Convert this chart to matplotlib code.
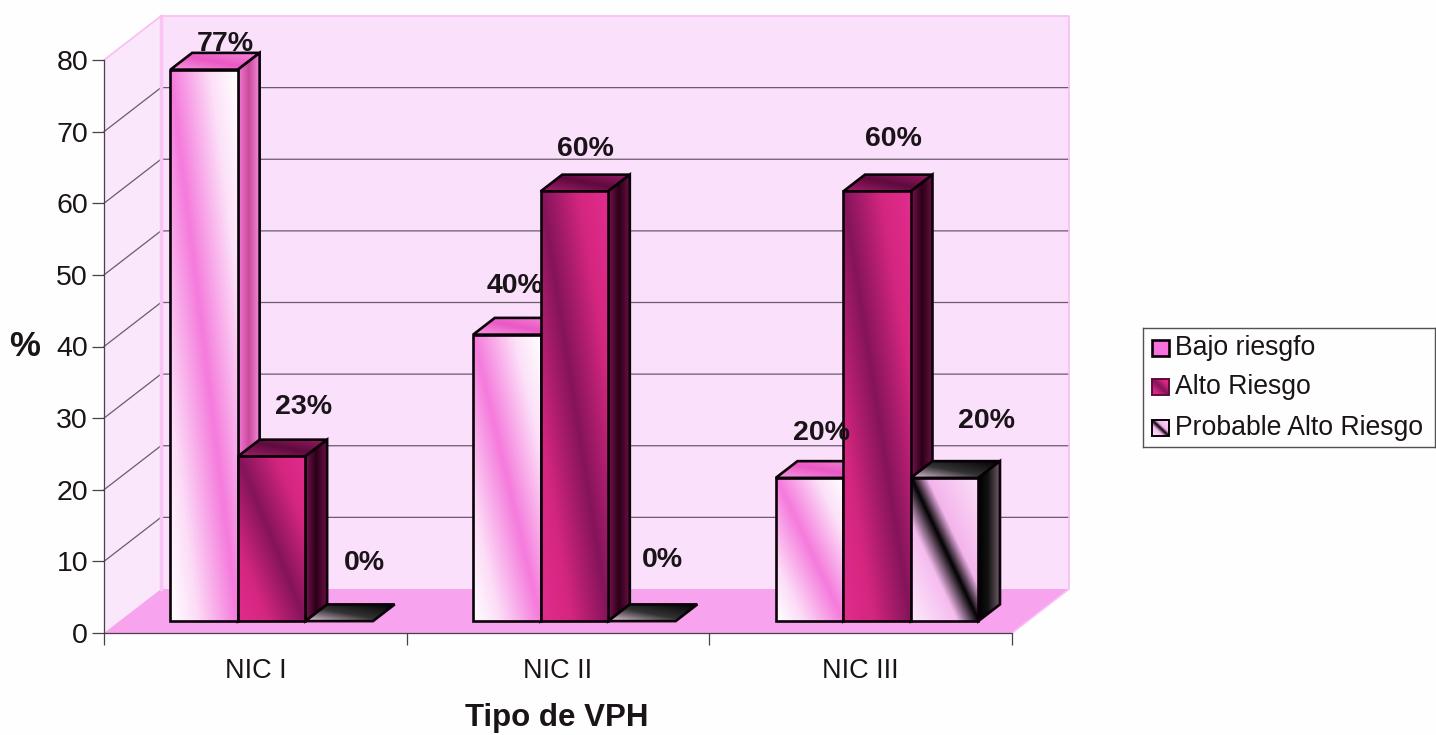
import numpy as np
import matplotlib
matplotlib.use("Agg")
import matplotlib.pyplot as plt
from matplotlib.colors import LinearSegmentedColormap
from matplotlib.patches import Polygon, Rectangle

plt.rcParams['font.family'] = ['Liberation Sans', 'DejaVu Sans']

categories = ['NIC I', 'NIC II', 'NIC III']
bajo = [77, 40, 20]
alto = [23, 60, 60]
probable = [0, 0, 20]
series_names = ['Bajo riesgfo', 'Alto Riesgo', 'Probable Alto Riesgo']
y_ticks = [0, 10, 20, 30, 40, 50, 60, 70, 80]

W, H = 1436, 735
X_PX = 908 / 3   # pixels per category
Y_PX = 573 / 80  # pixels per percent
DX = 57 / X_PX   # full depth of the box in data units
DY = 44 / Y_PX
BAR_W = 67.5 / X_PX
D0, D1 = 0.27, 0.65  # depth of the bars' front and back

# label offsets from the middle of each bar top, in pixels (series, then category)
label_offsets = [
    [(21, 26), (8, 49), (12, 45)],
    [(32, 49), (11, 42), (16, 52)],
    [(25, 58), (21, 61), (42, 57)],
]

front_stops = [
    [(0, '#ffffff'), (0.2, '#fcdcf7'), (0.5, '#f57adc'), (0.8, '#fce0f8'), (1, '#ffffff')],
    [(0, '#e22c8e'), (0.22, '#d4267f'), (0.5, '#84145a'), (0.78, '#d4267f'), (1, '#e22c8e')],
    [(0, '#fdeafb'), (0.34, '#f6bcef'), (0.5, '#000000'), (0.62, '#f4b4ec'), (1, '#fbe0f8')],
]
side_stops = [
    [(0, '#f27bd6'), (0.5, '#c94a9a'), (1, '#f58bdc')],
    [(0, '#7d1250'), (0.5, '#2a0018'), (1, '#6d0f45')],
    [(0, '#000000'), (0.45, '#111111'), (1, '#6f5c6a')],
]
top_stops = [
    [(0, '#f59be2'), (0.5, '#ea58c4'), (1, '#f48ad8')],
    [(0, '#a51c6e'), (0.5, '#5e0b3c'), (1, '#9b1a68')],
    [(0, '#e8c8e0'), (0.45, '#333333'), (1, '#000000')],
]

fig = plt.figure(figsize=(W / 100, H / 100), dpi=100, facecolor='#fefefe')
ax = fig.add_axes([104 / W, 1 - 633 / H, 908 / W, 573 / H])
ax.patch.set_visible(False)


def project(x, y, d):
    return (x + d * DX, y + d * DY)


def shade(pts, stops, z, mode='diag'):
    pts = np.array(pts)
    x0, y0 = pts.min(axis=0)
    x1, y1 = pts.max(axis=0)
    u, v = np.meshgrid(np.linspace(0, 1, 80), np.linspace(0, 1, 80))
    s = (u + v) / 2 if mode == 'diag' else u
    cmap = LinearSegmentedColormap.from_list('face', stops)
    im = ax.imshow(s, cmap=cmap, vmin=0, vmax=1, origin='lower', aspect='auto',
                   extent=(x0, x1, y0, y1), interpolation='bilinear', zorder=z)
    im.set_clip_box(fig.bbox)
    im.set_clip_path(Polygon(pts, closed=True, transform=ax.transData))
    ax.add_patch(Polygon(pts, closed=True, fill=False, ec='#0a0008', lw=1.9,
                         joinstyle='miter', clip_on=False, zorder=z + 0.001))


def wall(pts, color, z):
    ax.add_patch(Polygon(pts, closed=True, fc=color, ec='none', clip_on=False, zorder=z))


# side wall, back wall and floor
wall([project(0, 0, 0), project(0, 80, 0), project(0, 80, 1), project(0, 0, 1)], '#fbe7fb', 0.1)
wall([project(0, 0, 1), project(0, 80, 1), project(3, 80, 1), project(3, 0, 1)], '#fae0fa', 0.1)
wall([project(0, 0, 0), project(3, 0, 0), project(3, 0, 1), project(0, 0, 1)], '#f7a3ee', 0.2)

# grid lines run along the side wall and then the back wall
for t in y_ticks[1:-1]:
    xs, ys = zip(project(0, t, 0), project(0, t, 1), project(3, t, 1))
    ax.plot(xs, ys, color='#6d5a6d', lw=0.9, clip_on=False, zorder=0.3)

# pink edges of the box
xs, ys = zip(project(0, 80, 0), project(0, 80, 1), project(3, 80, 1), project(3, 0, 1), project(3, 0, 0))
ax.plot(xs, ys, color='#f8bdf3', lw=1.2, clip_on=False, zorder=0.4)
xs, ys = zip(project(0, 0, 1), project(0, 80, 1))
ax.plot(xs, ys, color='#f9c4f3', lw=2.5, clip_on=False, zorder=0.35)

# bars, painted left to right so each one hides the side of the previous one
series = [bajo, alto, probable]
z = 1.0
for c in range(len(categories)):
    for s in range(len(series)):
        val = series[s][c]
        left = c + 0.5 + (s - 1.5) * BAR_W + 1 / X_PX
        right = left + BAR_W
        top = [project(left, val, D0), project(right, val, D0),
               project(right, val, D1), project(left, val, D1)]
        shade(top, top_stops[s], z)
        z += 0.01
        if val > 0:
            side = [project(right, 0, D0), project(right, val, D0),
                    project(right, val, D1), project(right, 0, D1)]
            shade(side, side_stops[s], z, mode='u')
            z += 0.01
            front = [project(left, 0, D0), project(right, 0, D0),
                     project(right, val, D0), project(left, val, D0)]
            shade(front, front_stops[s], z)
            z += 0.01
        ox, oy = label_offsets[s][c]
        ax.annotate(f'{val}%', project(left + BAR_W / 2, val, D0), xytext=(ox * 0.72, oy * 0.72),
                    textcoords='offset points', ha='center', va='center',
                    fontsize=20.5, fontweight='bold', color='#1a1418', zorder=5,
                    annotation_clip=False)

ax.set_xlim(0, 3)
ax.set_ylim(0, 80)

for name in ['top', 'right']:
    ax.spines[name].set_visible(False)
for name in ['left', 'bottom']:
    ax.spines[name].set_color('#4a3f4a')
    ax.spines[name].set_linewidth(0.9)
    ax.spines[name].set_zorder(3)

ax.set_yticks(y_ticks)
ax.tick_params(axis='y', length=8.5, width=0.9, color='#4a3f4a', labelsize=20.5, pad=3, labelcolor='#1a1418')
ax.set_xticks([0, 1, 2, 3])
ax.set_xticklabels([])
ax.tick_params(axis='x', which='major', length=8.5, width=0.9, color='#4a3f4a')
ax.set_xticks([0.5, 1.5, 2.5], minor=True)
ax.set_xticklabels(categories, minor=True, fontsize=19.5, color='#1a1418')
ax.tick_params(axis='x', which='minor', length=0, pad=18)

ax.set_xlabel('Tipo de VPH', fontsize=22.5, fontweight='bold', color='#1a1418')
ax.xaxis.set_label_coords((557 - 104) / 908, (633 - 718) / 573)
ax.xaxis.label.set_va('center')
ax.set_ylabel('%', rotation=0, fontsize=25, fontweight='bold', color='#1a1418')
ax.yaxis.set_label_coords((25 - 104) / 908, (633 - 346) / 573)
ax.yaxis.label.set_va('center')
ax.yaxis.label.set_ha('center')

# legend box runs up to the right edge of the figure
leg = fig.add_axes([1143 / W, 1 - 447 / H, 292 / W, 119 / H])
leg.set_xlim(1143, 1435)
leg.set_ylim(447, 328)
leg.set_xticks([])
leg.set_yticks([])
leg.set_facecolor('#fefefe')
for sp in leg.spines.values():
    sp.set_color('#555055')
    sp.set_linewidth(1.0)

swatch_y = [348, 387, 428]
for s, name in enumerate(series_names):
    y = swatch_y[s]
    cmap = LinearSegmentedColormap.from_list('swatch', front_stops[s])
    u, v = np.meshgrid(np.linspace(0, 1, 30), np.linspace(0, 1, 30))
    if s == 0:
        leg.add_patch(Rectangle((1152, y - 8), 17, 16, fc='#f772dc', ec='#0a0008', lw=1.9))
    else:
        leg.imshow((u + v) / 2, cmap=cmap, vmin=0, vmax=1, origin='lower', aspect='auto',
                   extent=(1152, 1169, y + 8, y - 8), zorder=1)
        leg.add_patch(Rectangle((1152, y - 8), 17, 16, fill=False,
                                ec='#0a0008' if s == 2 else '#5e0b3c', lw=1.4, zorder=2))
    leg.text(1175, y, name, fontsize=19.2, va='center', ha='left', color='#1a1418')
leg.set_xlim(1143, 1435)
leg.set_ylim(447, 328)

fig.savefig('out.png', dpi=100, facecolor=fig.get_facecolor())
